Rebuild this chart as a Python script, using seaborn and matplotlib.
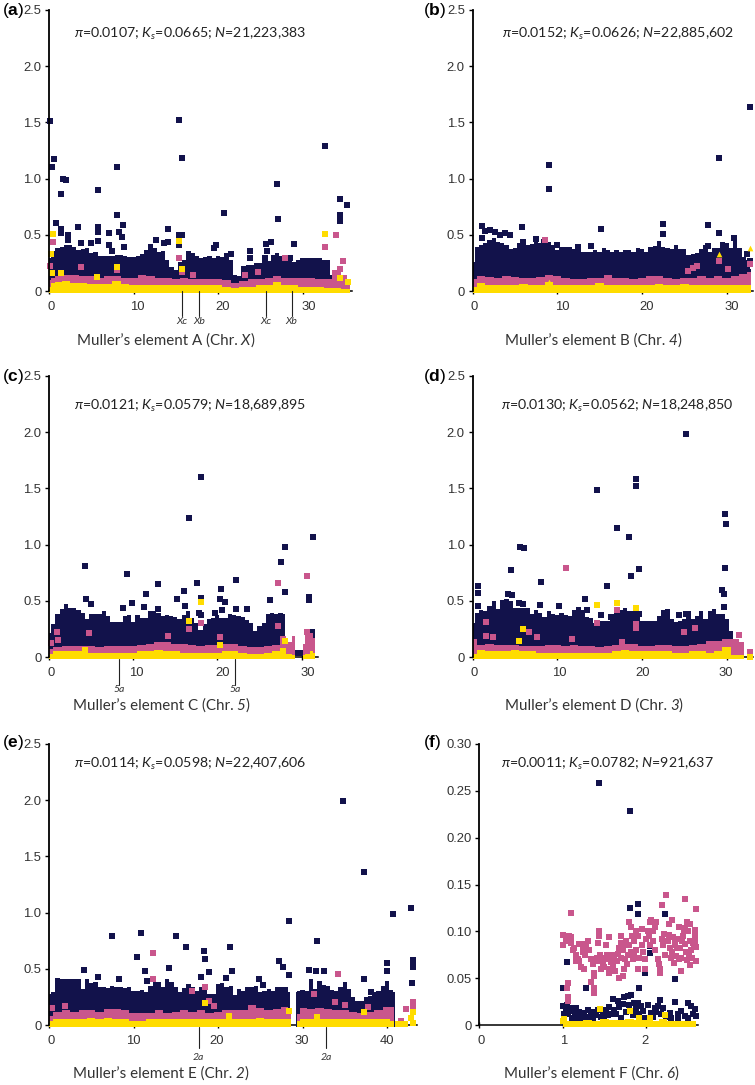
import matplotlib
matplotlib.use("Agg")
from matplotlib import pyplot as plt
from matplotlib.transforms import ScaledTranslation
import numpy as np
import seaborn as sns

nan = float("nan")

# ---- panel a
a_x = [0, 0.5, 1, 2, 3, 4, 5, 6, 7, 8, 9, 10, 11, 12, 13, 14, 15, 16, 17, 18, 19, 20, 21, 22, 23, 24, 25, 26, 27, 28, 29, 30, 31, 32, 33, 34, 35, 35.6]
a_pink = [0.10, 0.12, 0.13, 0.14, 0.14, 0.13, 0.13, 0.12, 0.13, 0.13, 0.12, 0.12, 0.14, 0.13, 0.12, 0.12, 0.11, 0.12, 0.11, 0.11, 0.11, 0.11, 0.10, 0.07, 0.09, 0.11, 0.11, 0.12, 0.13, 0.12, 0.12, 0.12, 0.12, 0.11, 0.11, 0.19, 0.14, 0.10]
a_yellow = [0.04, 0.07, 0.08, 0.09, 0.07, 0.07, 0.06, 0.06, 0.06, 0.09, 0.06, 0.05, 0.05, 0.05, 0.05, 0.05, 0.05, 0.05, 0.05, 0.05, 0.05, 0.05, 0.04, 0.03, 0.04, 0.04, 0.05, 0.05, 0.08, 0.05, 0.05, 0.04, 0.04, 0.04, 0.03, 0.03, 0.02, 0.02]
a_navy_x = [0, 0.5, 1, 1.5, 2, 2.5, 3, 3.5, 4, 4.5, 5, 5.5, 6, 6.5, 7, 7.5, 8, 8.5, 9, 9.5, 10, 10.5, 11, 11.5, 12, 12.5, 13, 13.5, 14, 14.5, 15, 15.5, 16, 16.5, 17, 17.5, 18, 18.5, 19, 19.5, 20, 20.5, 21, 21.5, 22, 22.5, 23, 23.5, 24, 24.5, 25, 25.5, 26, 26.5, 27, 27.5, 28, 28.5, 29, 29.5, 30, 30.5, 31, 31.5, 32, 32.5, 33, 33.5]
a_navy = [0.29, 0.355, 0.38, 0.395, 0.405, 0.41, 0.395, 0.365, 0.375, 0.38, 0.335, 0.35, 0.315, 0.315, 0.315, 0.315, 0.32, 0.32, 0.315, 0.305, 0.305, 0.315, 0.325, 0.365, 0.415, 0.38, 0.35, 0.355, 0.275, 0.215, 0.185, 0.26, 0.275, 0.355, 0.335, 0.315, 0.295, 0.305, 0.315, 0.295, 0.315, 0.305, 0.335, 0.275, 0.14, 0.13, 0.225, 0.23, 0.23, 0.245, 0.245, 0.275, 0.265, 0.32, 0.335, 0.315, 0.275, 0.275, 0.255, 0.275, 0.29, 0.29, 0.29, 0.295, 0.295, 0.275, 0.275, 0.14]
a_navy_px = [0.1, 0.3, 0.55, 1.4, 1.6, 2.0, 5.75, 8.0, 15.4, 15.75, 27.0, 27.05, 32.6, 34.45, 34.45, 34.45, 35.3, 20.7, 0.87, 1.4, 1.4, 2.3, 2.3, 3.4, 3.8, 5.0, 5.75, 5.75, 5.75, 7.1, 8.0, 8.3, 8.6, 8.8, 7.1, 7.5, 8.85, 12.7, 13.6, 14.1, 14.1, 15.4, 15.75, 15.4, 19.5, 19.8, 21.5, 23.8, 23.8, 25.7, 25.8, 26.3, 25.6, 28.5, 29.0]
a_navy_py = [1.51, 1.10, 1.17, 0.86, 1.0, 0.985, 0.895, 1.105, 1.52, 1.18, 0.955, 0.64, 1.29, 0.82, 0.68, 0.625, 0.765, 0.695, 0.605, 0.555, 0.52, 0.495, 0.45, 0.57, 0.43, 0.43, 0.57, 0.525, 0.445, 0.52, 0.675, 0.525, 0.48, 0.59, 0.405, 0.355, 0.39, 0.455, 0.43, 0.435, 0.55, 0.50, 0.495, 0.405, 0.385, 0.41, 0.33, 0.36, 0.29, 0.415, 0.36, 0.435, 0.295, 0.295, 0.415]
a_pink_px = [0.5, 34.0, 32.6, 34.8, 0.1, 3.75, 8.0, 15.4, 15.75, 17.05, 24.7, 23.15, 27.9, 34.45]
a_pink_py = [0.435, 0.495, 0.39, 0.27, 0.22, 0.215, 0.185, 0.295, 0.17, 0.14, 0.17, 0.145, 0.295, 0.2]
a_yellow_px = [0.5, 0.25, 32.6, 15.4, 15.75, 0.4, 1.4, 8.0, 5.7, 34.45, 35.35]
a_yellow_py = [0.51, 0.33, 0.505, 0.445, 0.2, 0.16, 0.16, 0.215, 0.125, 0.12, 0.08]

# ---- panel b
b_x = [0, 1, 2, 3, 4, 5, 6, 7, 8, 9, 10, 11, 12, 13, 14, 15, 16, 17, 18, 19, 20, 21, 22, 23, 24, 25, 26, 27, 28, 29, 30, 31, 32, 32.9]
b_pink = [0.11, 0.13, 0.125, 0.12, 0.13, 0.125, 0.12, 0.12, 0.125, 0.14, 0.13, 0.12, 0.11, 0.11, 0.12, 0.12, 0.14, 0.12, 0.12, 0.11, 0.12, 0.13, 0.13, 0.12, 0.11, 0.12, 0.12, 0.13, 0.12, 0.13, 0.12, 0.13, 0.15, 0.17]
b_yellow = [0.04, 0.07, 0.05, 0.05, 0.05, 0.05, 0.06, 0.05, 0.05, 0.08, 0.05, 0.05, 0.05, 0.05, 0.05, 0.07, 0.05, 0.05, 0.05, 0.05, 0.05, 0.05, 0.06, 0.05, 0.05, 0.06, 0.05, 0.05, 0.05, 0.05, 0.05, 0.05, 0.05, 0.05]
b_navy_x = [0, 0.5, 1, 1.5, 2, 2.5, 3, 3.5, 4, 4.5, 5, 5.5, 6, 6.5, 7, 7.5, 8, 8.5, 9, 9.5, 10, 10.5, 11, 11.5, 12, 12.5, 13, 13.5, 14, 14.5, 15, 15.5, 16, 16.5, 17, 17.5, 18, 18.5, 19, 19.5, 20, 20.5, 21, 21.5, 22, 22.5, 23, 23.5, 24, 24.5, 25, 25.5, 26, 26.5, 27, 27.5, 28, 28.5, 29, 29.5, 30, 30.5, 31, 31.5, 32, 32.5, 32.9]
b_navy = [0.26, 0.395, 0.41, 0.425, 0.455, 0.47, 0.435, 0.425, 0.405, 0.375, 0.385, 0.425, 0.445, 0.41, 0.415, 0.475, 0.425, 0.44, 0.435, 0.405, 0.365, 0.395, 0.395, 0.395, 0.35, 0.375, 0.35, 0.345, 0.345, 0.365, 0.35, 0.385, 0.365, 0.35, 0.365, 0.35, 0.365, 0.365, 0.35, 0.385, 0.375, 0.35, 0.395, 0.40, 0.445, 0.395, 0.385, 0.375, 0.405, 0.375, 0.375, 0.32, 0.325, 0.335, 0.375, 0.41, 0.35, 0.38, 0.38, 0.44, 0.425, 0.38, 0.455, 0.38, 0.305, 0.275, 0.20]
b_navy_px = [32.8, 29.05, 9.0, 9.0, 1.1, 1.1, 1.5, 2.1, 2.7, 3.3, 3.85, 4.45, 5.8, 6.0, 7.5, 8.4, 10.0, 12.4, 14.0, 15.15, 22.5, 22.5, 27.8, 29.05, 27.8, 30.9, 32.8, 32.4, 12.1]
b_navy_py = [1.637, 1.183, 1.124, 0.905, 0.58, 0.475, 0.535, 0.54, 0.525, 0.495, 0.52, 0.50, 0.565, 0.435, 0.465, 0.435, 0.405, 0.39, 0.40, 0.55, 0.593, 0.505, 0.59, 0.516, 0.397, 0.47, 0.27, 0.325, 0.347]
b_pink_px = [8.6, 25.4, 26.0, 26.5, 29.05, 30.2, 32.8]
b_pink_py = [0.45, 0.175, 0.205, 0.22, 0.27, 0.2, 0.237]
b_yellow_px = [9.0, 29.05, 32.7]
b_yellow_py = [0.08, 0.33, 0.385]

# ---- panel c
c_x = [0, 1, 2, 3, 4, 5, 6, 7, 8, 9, 10, 11, 12, 13, 14, 15, 16, 17, 18, 19, 20, 21, 22, 23, 24, 25, 26, 27, 27.9, 28.5, 29.2, 29.7, 30.2, 30.7, 31.2, 31.6]
c_pink = [0.07, 0.09, 0.10, 0.10, 0.10, 0.10, 0.09, 0.10, 0.10, 0.10, 0.10, 0.11, 0.12, 0.135, 0.13, 0.12, 0.12, 0.11, 0.10, 0.11, 0.11, 0.12, 0.12, 0.10, 0.09, 0.09, 0.10, 0.11, 0.13, 0.13, 0.19, nan, 0.12, 0.20, 0.215, 0.17]
c_yellow = [0.03, 0.05, 0.05, 0.05, 0.05, 0.04, 0.04, 0.04, 0.04, 0.04, 0.04, 0.05, 0.05, 0.06, 0.05, 0.05, 0.04, 0.04, 0.04, 0.04, 0.04, 0.05, 0.05, 0.04, 0.03, 0.03, 0.04, 0.05, 0.08, 0.03, 0.02, nan, 0.02, 0.03, 0.05, 0.04]
c_navy_x = [0, 0.5, 1, 1.5, 2, 2.5, 3, 3.5, 4, 4.5, 5, 5.5, 6, 6.5, 7, 7.5, 8, 8.5, 9, 9.5, 10, 10.5, 11, 11.5, 12, 12.5, 13, 13.5, 14, 14.5, 15, 15.5, 16, 16.5, 17, 17.5, 18, 18.5, 19, 19.5, 20, 20.5, 21, 21.5, 22, 22.5, 23, 23.5, 24, 24.5, 25, 25.5, 26, 26.5, 27, 27.5, 28, 28.5, 29, 30, 30.7, 31.2, 31.6]
c_navy = [0.215, 0.29, 0.38, 0.425, 0.475, 0.44, 0.435, 0.415, 0.395, 0.335, 0.385, 0.38, 0.385, 0.41, 0.365, 0.315, 0.315, 0.315, 0.355, 0.375, 0.315, 0.375, 0.345, 0.35, 0.405, 0.405, 0.395, 0.365, 0.375, 0.365, 0.355, 0.335, 0.375, 0.41, 0.35, 0.305, 0.24, 0.29, 0.335, 0.35, 0.375, 0.35, 0.35, 0.38, 0.375, 0.365, 0.355, 0.325, 0.305, 0.23, 0.275, 0.305, 0.38, 0.395, 0.38, 0.395, 0.38, nan, nan, nan, 0.25, 0.25, 0.25]
c_navy_px = [18.0, 16.65, 31.35, 28.0, 27.6, 4.27, 9.25, 13.0, 17.55, 22.25, 20.4, 16.05, 11.55, 28.0, 4.35, 5.0, 9.8, 8.8, 11.3, 13.0, 15.15, 16.1, 18.0, 20.3, 20.9, 20.6, 19.7, 22.25, 23.5, 26.2, 30.9, 30.9, 17.8, 18.0, 9.2, 28.6, 29.0, 29.4, 30.2]
c_navy_py = [1.6, 1.237, 1.068, 0.98, 0.842, 0.807, 0.735, 0.65, 0.655, 0.685, 0.608, 0.587, 0.563, 0.575, 0.52, 0.475, 0.483, 0.44, 0.445, 0.424, 0.52, 0.454, 0.525, 0.516, 0.486, 0.415, 0.39, 0.427, 0.427, 0.504, 0.534, 0.51, 0.39, 0.37, 0.34, 0.035, 0.035, 0.035, 0.035]
c_pink_px = [27.2, 30.6, 0.9, 1.1, 0.25, 4.8, 14.15, 16.65, 18.0, 20.35, 27.2, 27.8, 30.6]
c_pink_py = [0.66, 0.718, 0.22, 0.155, 0.125, 0.21, 0.19, 0.245, 0.30, 0.178, 0.275, 0.163, 0.22]
c_yellow_px = [4.27, 18.0, 16.65, 20.35, 28.0]
c_yellow_py = [0.065, 0.49, 0.317, 0.104, 0.142]

# ---- panel d
d_x = [0, 1, 2, 3, 4, 5, 6, 7, 8, 9, 10, 11, 12, 13, 14, 15, 16, 17, 18, 19, 20, 21, 22, 23, 24, 25, 26, 27, 28, 29, 30, 31, 32]
d_pink = [0.16, 0.11, 0.12, 0.11, 0.11, 0.11, 0.10, 0.10, 0.10, 0.11, 0.11, 0.10, 0.11, 0.10, 0.10, 0.09, 0.10, 0.11, 0.12, 0.12, 0.10, 0.10, 0.11, 0.11, 0.10, 0.10, 0.11, 0.12, 0.14, 0.14, 0.16, 0.16, 0.13]
d_yellow = [0.03, 0.06, 0.05, 0.05, 0.05, 0.06, 0.05, 0.05, 0.04, 0.04, 0.04, 0.04, 0.04, 0.04, 0.04, 0.04, 0.04, 0.05, 0.06, 0.05, 0.05, 0.05, 0.05, 0.05, 0.04, 0.04, 0.05, 0.05, 0.04, 0.05, 0.09, 0.02, 0.02]
d_navy_x = [0, 0.5, 1, 1.5, 2, 2.5, 3, 3.5, 4, 4.5, 5, 5.5, 6, 6.5, 7, 7.5, 8, 8.5, 9, 9.5, 10, 10.5, 11, 11.5, 12, 12.5, 13, 13.5, 14, 14.5, 15, 15.5, 16, 16.5, 17, 17.5, 18, 18.5, 19, 19.5, 20, 20.5, 21, 21.5, 22, 22.5, 23, 23.5, 24, 24.5, 25, 25.5, 26, 26.5, 27, 27.5, 28, 28.5, 29, 29.5, 30, 30.5, 31]
d_navy = [0.305, 0.395, 0.415, 0.405, 0.455, 0.50, 0.425, 0.47, 0.515, 0.50, 0.44, 0.44, 0.44, 0.44, 0.385, 0.415, 0.395, 0.355, 0.41, 0.385, 0.375, 0.395, 0.375, 0.365, 0.415, 0.445, 0.415, 0.355, 0.35, 0.305, 0.32, 0.32, 0.32, 0.35, 0.425, 0.415, 0.44, 0.405, 0.41, 0.41, 0.32, 0.32, 0.32, 0.32, 0.365, 0.415, 0.425, 0.335, 0.315, 0.32, 0.335, 0.405, 0.335, 0.365, 0.405, 0.335, 0.41, 0.425, 0.38, 0.38, 0.335, 0.23, 0.14]
d_navy_px = [25.2, 19.3, 19.3, 14.75, 29.85, 29.95, 17.0, 18.5, 5.6, 6.05, 4.55, 8.05, 18.75, 19.7, 29.85, 15.9, 0.6, 0.6, 0.7, 29.5, 29.7, 13.3, 5.5, 6.0, 7.95, 10.2, 4.7, 4.15, 3.55, 29.7, 15.2, 16.4, 19.7, 24.4, 25.2, 13.5]
d_navy_py = [1.98, 1.58, 1.52, 1.486, 1.27, 1.186, 1.148, 1.068, 0.98, 0.967, 0.777, 0.664, 0.718, 0.783, 0.795, 0.635, 0.635, 0.572, 0.454, 0.593, 0.563, 0.513, 0.483, 0.474, 0.463, 0.454, 0.555, 0.563, 0.483, 0.445, 0.377, 0.359, 0.386, 0.374, 0.386, 0.42]
d_pink_px = [11.0, 17.0, 14.75, 19.3, 19.3, 1.65, 1.6, 2.4, 6.7, 7.65, 11.8, 17.7, 25.0, 26.2, 31.4, 32.7]
d_pink_py = [0.795, 0.415, 0.305, 0.297, 0.26, 0.314, 0.184, 0.178, 0.222, 0.178, 0.157, 0.133, 0.222, 0.258, 0.2, 0.045]
d_yellow_px = [14.75, 17.0, 19.3, 6.0, 5.5, 32.7]
d_yellow_py = [0.465, 0.483, 0.44, 0.246, 0.142, 0.0]

# ---- panel e
e_x = [0, 1, 2, 3, 4, 5, 6, 7, 8, 9, 10, 11, 12, 13, 14, 15, 16, 17, 18, 19, 20, 21, 22, 23, 24, 25, 26, 27, 28, 28.6, 29.0, 29.4, 30, 31, 32, 33, 34, 35, 36, 37, 38, 39, 40, 40.8]
e_pink = [0.08, 0.12, 0.13, 0.12, 0.13, 0.13, 0.12, 0.14, 0.14, 0.13, 0.11, 0.11, 0.11, 0.13, 0.11, 0.12, 0.13, 0.12, 0.13, 0.11, 0.12, 0.13, 0.13, 0.13, 0.18, 0.15, 0.13, 0.14, 0.16, 0.15, nan, 0.10, 0.15, 0.14, 0.15, 0.14, 0.13, 0.13, 0.12, 0.11, 0.12, 0.13, 0.16, 0.16]
e_yellow = [0.04, 0.05, 0.05, 0.05, 0.05, 0.06, 0.05, 0.06, 0.05, 0.05, 0.04, 0.04, 0.05, 0.05, 0.05, 0.05, 0.05, 0.05, 0.05, 0.05, 0.05, 0.05, 0.05, 0.05, 0.05, 0.06, 0.05, 0.05, 0.05, 0.05, nan, 0.04, 0.05, 0.05, 0.05, 0.05, 0.05, 0.05, 0.05, 0.05, 0.05, 0.05, 0.05, 0.04]
e_navy_x = [0, 0.5, 1, 1.5, 2, 2.5, 3, 3.5, 4, 4.5, 5, 5.5, 6, 6.5, 7, 7.5, 8, 8.5, 9, 9.5, 10, 10.5, 11, 11.5, 12, 12.5, 13, 13.5, 14, 14.5, 15, 15.5, 16, 16.5, 17, 17.5, 18, 18.5, 19, 19.5, 20, 20.5, 21, 21.5, 22, 22.5, 23, 23.5, 24, 24.5, 25, 25.5, 26, 26.5, 27, 27.5, 28, 28.5, 28.9, 29.2, 29.5, 30, 30.5, 31, 31.5, 32, 32.5, 33, 33.5, 34, 34.5, 35, 35.5, 36, 36.5, 37, 37.5, 38, 38.5, 39, 39.5, 40, 40.5, 40.9]
e_navy = [0.275, 0.29, 0.415, 0.41, 0.41, 0.405, 0.405, 0.405, 0.32, 0.41, 0.375, 0.38, 0.335, 0.335, 0.325, 0.345, 0.335, 0.335, 0.325, 0.335, 0.305, 0.305, 0.315, 0.29, 0.345, 0.38, 0.385, 0.335, 0.405, 0.38, 0.335, 0.295, 0.325, 0.365, 0.335, 0.305, 0.335, 0.35, 0.275, 0.275, 0.365, 0.375, 0.335, 0.345, 0.265, 0.32, 0.305, 0.335, 0.335, 0.345, 0.29, 0.305, 0.32, 0.305, 0.335, 0.335, 0.335, 0.29, nan, 0.29, 0.305, 0.315, 0.305, 0.405, 0.32, 0.395, 0.355, 0.35, 0.315, 0.305, 0.335, 0.38, 0.32, 0.245, 0.215, 0.215, 0.245, 0.26, 0.29, 0.305, 0.35, 0.395, 0.315, 0.29]
e_navy_px = [34.8, 37.3, 28.35, 31.75, 7.4, 10.9, 15.0, 16.25, 21.4, 18.35, 18.45, 10.45, 4.15, 27.2, 27.75, 28.35, 30.75, 31.65, 32.5, 37.25, 14.2, 11.4, 18.9, 21.7, 20.95, 18.0, 5.8, 8.3, 11.55, 24.8, 25.35, 40.75, 42.8, 40.05, 40.05, 43.1, 43.1, 43.1, 43.0, 38.05]
e_navy_py = [1.996, 1.364, 0.922, 0.747, 0.792, 0.82, 0.792, 0.697, 0.69, 0.658, 0.59, 0.605, 0.492, 0.572, 0.516, 0.442, 0.492, 0.477, 0.477, 0.412, 0.51, 0.48, 0.468, 0.48, 0.415, 0.424, 0.424, 0.41, 0.39, 0.41, 0.36, 0.985, 1.044, 0.55, 0.48, 0.58, 0.55, 0.52, 0.37, 0.297]
e_pink_px = [12.35, 12.35, 34.15, 18.45, 16.9, 31.4, 33.85, 35.05, 18.9, 19.55, 0.3, 1.85, 37.75, 43.1, 43.1, 42.2, 41.7]
e_pink_py = [0.64, 0.41, 0.45, 0.335, 0.30, 0.273, 0.208, 0.178, 0.217, 0.17, 0.154, 0.172, 0.163, 0.208, 0.163, 0.14, 0.035]
e_yellow_px = [18.45, 28.35, 21.35, 37.3, 31.75, 43.1, 42.8, 43.1, 41.3, 41.7, 42.1]
e_yellow_py = [0.2, 0.125, 0.083, 0.116, 0.074, 0.12, 0.06, 0.02, 0.012, 0.012, 0.012]

# ---- panel f, sparse enough to read single windows
f_x = [1.0, 1.1, 1.2, 1.3, 1.4, 1.5, 1.6, 1.7, 1.8, 1.9, 2.0, 2.1, 2.2, 2.3, 2.4, 2.5, 2.6]
f_pink = [nan] * 17
f_yellow = [0.006, 0.004, 0.004, 0.005, 0.004, 0.006, 0.005, 0.005, 0.006, 0.005, 0.005, 0.004, 0.006, 0.004, 0.004, 0.004, 0.004]
f_navy_x = [1.0]
f_navy = [nan]
f_navy_px = [1.44, 1.81, 1.81, 1.90, 1.90, 2.22, 1.05, 1.0, 1.28, 1.92, 2.34, 1.99, 2.05, 2.05,
             1.01, 1.02, 1.04, 1.05, 1.07, 1.09, 1.11, 1.13, 1.15, 1.16, 1.18, 1.2, 1.22, 1.24, 1.26, 1.28, 1.3, 1.32, 1.34, 1.36, 1.38, 1.4, 1.42, 1.46, 1.48, 1.5, 1.52, 1.54, 1.56, 1.58, 1.6, 1.62, 1.64, 1.66, 1.68, 1.7, 1.72, 1.74, 1.76, 1.78, 1.8, 1.82, 1.84, 1.86, 1.88, 1.9, 1.92, 1.94, 1.96, 1.98, 2.02, 2.06, 2.08, 2.1, 2.12, 2.14, 2.16, 2.18, 2.2, 2.24, 2.28, 2.3, 2.34, 2.38, 2.38, 2.42, 2.46, 2.5, 2.5, 2.54, 2.56, 2.58, 2.6]
f_navy_py = [0.258, 0.229, 0.125, 0.129, 0.118, 0.118, 0.067, 0.04, 0.04, 0.04, 0.049, 0.055, 0.084, 0.077,
             0.02, 0.012, 0.016, 0.021, 0.012, 0.018, 0.008, 0.015, 0.01, 0.018, 0.008, 0.014, 0.011, 0.006, 0.013, 0.009, 0.016, 0.007, 0.012, 0.008, 0.014, 0.011, 0.016, 0.009, 0.013, 0.007, 0.016, 0.011, 0.019, 0.012, 0.028, 0.016, 0.012, 0.026, 0.019, 0.008, 0.022, 0.03, 0.014, 0.031, 0.021, 0.032, 0.011, 0.023, 0.017, 0.024, 0.012, 0.02, 0.015, 0.008, 0.021, 0.013, 0.009, 0.018, 0.014, 0.02, 0.027, 0.012, 0.018, 0.009, 0.013, 0.007, 0.025, 0.012, 0.007, 0.015, 0.01, 0.024, 0.008, 0.02, 0.012, 0.017, 0.01]
f_pink_px = [1.0, 1.01, 1.04, 1.08, 1.1, 1.1, 1.12, 1.14, 1.16, 1.18, 1.16, 1.2, 1.22, 1.24, 1.25, 1.27, 1.2, 1.22, 1.26, 1.28, 1.3, 1.32, 1.34, 1.36, 1.37, 1.38, 1.34, 1.38, 1.37, 1.43, 1.44, 1.42, 1.45, 1.41, 1.44, 1.46, 1.48, 1.5, 1.5, 1.52, 1.53, 1.55, 1.56, 1.55, 1.57, 1.58, 1.6, 1.6, 1.62, 1.63, 1.65, 1.66, 1.68, 1.7, 1.7, 1.7, 1.68, 1.72, 1.73, 1.72, 1.74, 1.76, 1.75, 1.77, 1.78, 1.8, 1.82, 1.83, 1.8, 1.82, 1.84, 1.85, 1.86, 1.88, 1.88, 1.9, 1.9, 1.92, 1.95, 1.95, 1.96, 1.98, 1.99, 2.0, 2.02, 2.03, 2.04, 2.05, 2.06, 2.08, 2.08, 2.1, 2.1, 2.12, 2.14, 2.15, 2.16, 2.17, 2.19, 2.2, 2.21, 2.22, 2.24, 2.19, 2.31, 2.27, 2.46, 2.6, 2.49, 2.53, 2.59, 2.39, 2.42, 2.53, 2.6, 1.1, 1.05, 1.06, 1.07, 1.06,
             2.26, 2.28, 2.3, 2.32, 2.34, 2.36, 2.38, 2.4, 2.42, 2.44, 2.46, 2.48, 2.5, 2.52, 2.54, 2.56, 2.58, 2.6, 2.27, 2.31, 2.35, 2.39, 2.43, 2.47, 2.51, 2.55, 2.59, 2.33, 2.37, 2.45, 2.49, 2.57]
f_pink_py = [0.096, 0.085, 0.09, 0.095, 0.094, 0.088, 0.08, 0.082, 0.075, 0.07, 0.068, 0.087, 0.086, 0.082, 0.078, 0.075, 0.068, 0.062, 0.06, 0.087, 0.09, 0.08, 0.07, 0.065, 0.056, 0.052, 0.046, 0.04, 0.034, 0.1, 0.095, 0.088, 0.075, 0.072, 0.068, 0.06, 0.065, 0.072, 0.062, 0.085, 0.075, 0.094, 0.07, 0.055, 0.06, 0.067, 0.075, 0.062, 0.07, 0.058, 0.068, 0.076, 0.082, 0.095, 0.088, 0.072, 0.05, 0.052, 0.06, 0.08, 0.085, 0.09, 0.07, 0.065, 0.075, 0.11, 0.105, 0.095, 0.085, 0.078, 0.07, 0.09, 0.075, 0.08, 0.1, 0.095, 0.06, 0.072, 0.102, 0.085, 0.078, 0.06, 0.07, 0.092, 0.1, 0.095, 0.11, 0.085, 0.112, 0.1, 0.09, 0.105, 0.08, 0.11, 0.07, 0.065, 0.055, 0.06, 0.092, 0.085, 0.097, 0.075, 0.139, 0.128, 0.112, 0.108, 0.135, 0.124, 0.11, 0.108, 0.101, 0.105, 0.058, 0.064, 0.068, 0.12, 0.04, 0.03, 0.045, 0.026,
             0.09, 0.082, 0.072, 0.094, 0.085, 0.074, 0.092, 0.082, 0.072, 0.095, 0.087, 0.078, 0.1, 0.09, 0.08, 0.088, 0.095, 0.083, 0.096, 0.078, 0.088, 0.07, 0.09, 0.104, 0.075, 0.072, 0.09, 0.066, 0.082, 0.1, 0.069, 0.085]
f_yellow_px = [1.45, 1.81, 2.22, 2.05, 1.91, 1.0, 1.02]
f_yellow_py = [0.017, 0.015, 0.011, 0.007, 0.007, 0.004, 0.006]

NAVY = "#12124b"
PINK = "#c9568c"
YELLOW = "#ffdc00"
GREY = "#333333"
W, H = 755, 1085

sns.set_style("white")
plt.rcParams["font.family"] = ["Liberation Sans", "DejaVu Sans"]
plt.rcParams["mathtext.fontset"] = "custom"
plt.rcParams["mathtext.rm"] = "Lato"
plt.rcParams["mathtext.it"] = "Lato:italic"
plt.rcParams["mathtext.bf"] = "Liberation Sans:bold"
plt.rcParams["mathtext.fallback"] = "stixsans"

fig = plt.figure(figsize=(W / 100, H / 100), dpi=100)


def add_text(x, y, s, **kw):
    return fig.text(x / W, 1 - y / H, s, **kw)


def band(ax, x, top, color, z):
    x = np.array(x, dtype=float)
    top = np.array(top, dtype=float)
    ax.fill_between(x, -0.02 * ax.get_ylim()[1] / 2.5, top, step="mid", color=color, lw=0, zorder=z, clip_on=False)


def points(ax, x, y, color, z, marker="s", size=17):
    sns.scatterplot(x=x, y=y, ax=ax, color=color, marker=marker, s=size, linewidth=0, zorder=z, clip_on=False, legend=False)


def panel(box, xlim, ylim, xticks, xshift, yticks, ylabels, bands, navy, pink, yellow, yellow_marker="s"):
    l, t, r, b = box
    ax = fig.add_axes([l / W, 1 - b / H, (r - l) / W, (b - t) / H])
    ax.set_facecolor("none")
    ax.set_xlim(0, xlim)
    ax.set_ylim(0, ylim)
    nx, ny, bx, bp, by = bands
    band(ax, nx, ny, NAVY, 2)
    points(ax, navy[0], navy[1], NAVY, 3)
    band(ax, bx, bp, PINK, 4)
    points(ax, pink[0], pink[1], PINK, 5)
    band(ax, bx, by, YELLOW, 6)
    points(ax, yellow[0], yellow[1], YELLOW, 7, marker=yellow_marker)
    ax.set_xlabel("")
    ax.set_ylabel("")
    ax.set_xlim(0, xlim)
    ax.set_ylim(0, ylim)
    ax.set_xticks(xticks)
    ax.set_xticklabels([str(v) for v in xticks])
    ax.set_yticks(yticks)
    ax.set_yticklabels(ylabels)
    sns.despine(ax=ax, top=True, right=True)
    ax.spines["left"].set_linewidth(1.3)
    ax.spines["left"].set_color("black")
    ax.spines["bottom"].set_linewidth(1.1)
    ax.spines["bottom"].set_color("black")
    ax.spines["left"].set_zorder(10)
    ax.spines["bottom"].set_zorder(1)
    ax.tick_params(axis="x", direction="inout", length=4, width=1, color="black", labelsize=9.4, labelcolor=GREY, pad=5, bottom=True)
    ax.tick_params(axis="y", direction="out", length=3, width=1, color="black", labelsize=9.4, labelcolor=GREY, pad=2.5, left=True)
    for lab, dx in zip(ax.get_xticklabels(), xshift):
        lab.set_transform(lab.get_transform() + ScaledTranslation(dx / 100, 0, fig.dpi_scale_trans))
    return ax


def marks(ax, px_bottom, px_top, xs, labels, text_y):
    # small black leader lines under the axis for the inversion breakpoints
    for v, lab in zip(xs, labels):
        xp = ax.transData.transform((v, 0))[0]
        fig.add_artist(plt.Line2D([xp / W, xp / W], [1 - px_bottom / H, 1 - px_top / H], color="#222222", lw=0.8))
        add_text(xp, text_y, lab, ha="center", va="center", fontsize=7.5, family="Lato", style="italic", color="#333333")


y_ticks = [0, 0.5, 1.0, 1.5, 2.0, 2.5]
y_labels = ["0", "0.5", "1.0", "1.5", "2.0", "2.5"]
f_y_ticks = [0, 0.05, 0.10, 0.15, 0.20, 0.25, 0.30]
f_y_labels = ["0", "0.05", "0.10", "0.15", "0.20", "0.25", "0.30"]

ax_a = panel((49, 10, 352, 291), 35.85, 2.5, [0, 10, 20, 30], [2, 4, 5, 6], y_ticks, y_labels,
             (a_navy_x, a_navy, a_x, a_pink, a_yellow), (a_navy_px, a_navy_py), (a_pink_px, a_pink_py), (a_yellow_px, a_yellow_py))
ax_b = panel((472.5, 10, 753, 291), 33.1, 2.5, [0, 10, 20, 30], [2, 5, 5, 5], y_ticks, y_labels,
             (b_navy_x, b_navy, b_x, b_pink, b_yellow), (b_navy_px, b_navy_py), (b_pink_px, b_pink_py), (b_yellow_px, b_yellow_py), yellow_marker="^")
ax_c = panel((49, 376, 318, 657), 31.95, 2.5, [0, 10, 20, 30], [2, 3, 5, 6], y_ticks, y_labels,
             (c_navy_x, c_navy, c_x, c_pink, c_yellow), (c_navy_px, c_navy_py), (c_pink_px, c_pink_py), (c_yellow_px, c_yellow_py))
ax_d = panel((472.5, 376, 753, 657), 33.1, 2.5, [0, 10, 20, 30], [2, 2, 1, -1], y_ticks, y_labels,
             (d_navy_x, d_navy, d_x, d_pink, d_yellow), (d_navy_px, d_navy_py), (d_pink_px, d_pink_py), (d_yellow_px, d_yellow_py))
ax_e = panel((49, 744, 417, 1025), 43.55, 2.5, [0, 10, 20, 30, 40], [2, 0, -1, -1, 0], y_ticks, y_labels,
             (e_navy_x, e_navy, e_x, e_pink, e_yellow), (e_navy_px, e_navy_py), (e_pink_px, e_pink_py), (e_yellow_px, e_yellow_py))
ax_f = panel((479, 744, 698, 1025), 2.62, 0.30, [0, 1, 2], [2, 1, -1], f_y_ticks, f_y_labels,
             (f_navy_x, f_navy, f_x, f_pink, f_yellow), (f_navy_px, f_navy_py), (f_pink_px, f_pink_py), (f_yellow_px, f_yellow_py))

fig.canvas.draw()
marks(ax_a, 291, 316, [15.75, 17.75, 25.7, 28.7], ["Xc", "Xb", "Xc", "Xb"], 322)
marks(ax_c, 659, 685, [8.3, 22.1], ["5a", "5a"], 689)
marks(ax_e, 1027, 1048, [17.7, 32.8], ["2a", "2a"], 1057)

stats = [(74, 34, r"$\pi$=0.0107; $K_s$=0.0665; $N$=21,223,383"),
         (502, 34, r"$\pi$=0.0152; $K_s$=0.0626; $N$=22,885,602"),
         (74, 406, r"$\pi$=0.0121; $K_s$=0.0579; $N$=18,689,895"),
         (501, 406, r"$\pi$=0.0130; $K_s$=0.0562; $N$=18,248,850"),
         (74, 764, r"$\pi$=0.0114; $K_s$=0.0598; $N$=22,407,606"),
         (501, 764, r"$\pi$=0.0011; $K_s$=0.0782; $N$=921,637")]
for x, y, s in stats:
    add_text(x, y, s, ha="left", va="center", fontsize=10.2, family="Lato", color="#222222")

titles = [(77, 341, "A", "X"), (505, 341, "B", "4"), (73, 706, "C", "5"),
          (505, 706, "D", "3"), (73, 1074, "E", "2"), (504, 1074, "F", "6")]
renderer = fig.canvas.get_renderer()
for x, y, letter, chrom in titles:
    # the chromosome name is italic, digits too, which mathtext will not do
    t = add_text(x, y, "Muller’s element " + letter + " (Chr.", ha="left", va="center", fontsize=10.9, family="Lato", color="#333333")
    x2 = t.get_window_extent(renderer).x1 + 3
    t = add_text(x2, y, chrom, ha="left", va="center", fontsize=10.9, family="Lato", style="italic", color="#333333")
    x3 = t.get_window_extent(renderer).x1
    add_text(x3, y, ")", ha="left", va="center", fontsize=10.9, family="Lato", color="#333333")

tags = [(2, 11, "a"), (423, 11, "b"), (2, 377, "c"), (423, 377, "d"), (2, 743, "e"), (423, 743, "f")]
for x, y, s in tags:
    add_text(x, y, "(" + r"$\mathbf{" + s + "}$" + ")", ha="left", va="center", fontsize=12.5, color="black")

fig.savefig("out.png", dpi=100)
